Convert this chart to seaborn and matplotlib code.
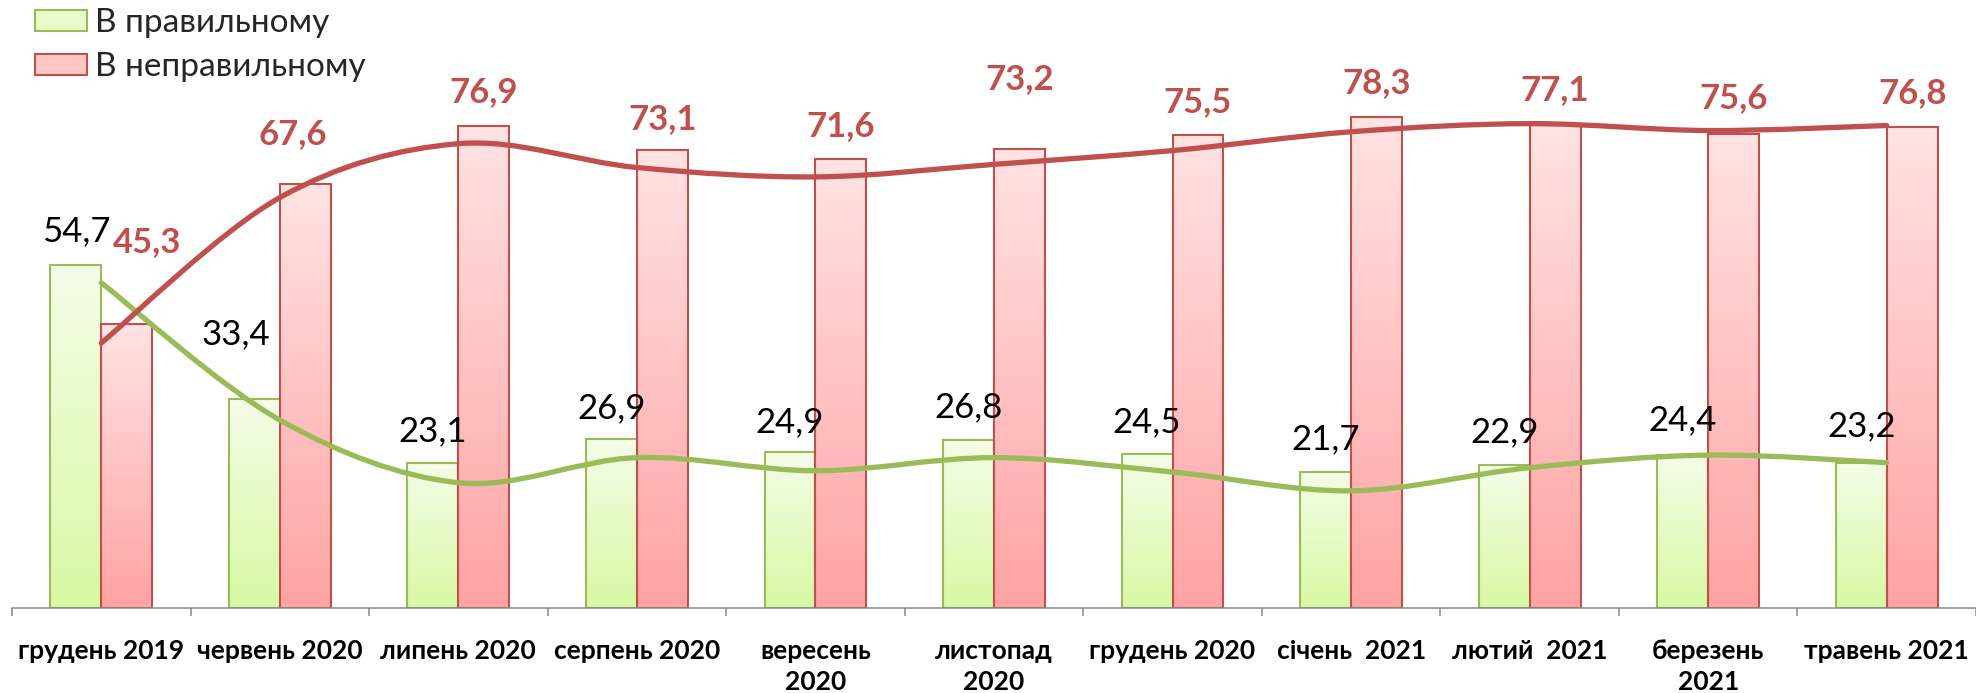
import numpy as np
import pandas as pd
import seaborn as sns
import matplotlib.pyplot as plt
from matplotlib.path import Path
from matplotlib.patches import PathPatch, Patch
from matplotlib.colors import LinearSegmentedColormap

months = ["грудень 2019", "червень 2020", "липень 2020", "серпень 2020",
          "вересень\n2020", "листопад\n2020", "грудень 2020", "січень  2021",
          "лютий  2021", "березень\n2021", "травень 2021"]
series = ["В правильному", "В неправильному"]
correct = [54.7, 33.4, 23.1, 26.9, 24.9, 26.8, 24.5, 21.7, 22.9, 24.4, 23.2]
wrong = [45.3, 67.6, 76.9, 73.1, 71.6, 73.2, 75.5, 78.3, 77.1, 75.6, 76.8]

# smoothed line series
correct_line = [51.9, 30.0, 20.0, 24.0, 21.9, 24.0, 21.7, 18.7, 22.4, 24.4, 23.2]
wrong_line = [42.3, 65.5, 74.1, 70.3, 68.8, 70.8, 73.0, 76.0, 77.3, 76.2, 77.0]

# data label nudges (pixels) relative to the top of each bar
correct_dx = [0, -19, 0, 0, 0, 0, 0, 0, 0, 0, 0]
correct_dy = [34, 64, 32, 31, 30, 33, 32, 33, 32, 35, 36]
wrong_dx = [20, -13, 0, 0, 0, 0, 0, 0, 0, 0, 0]
wrong_dy = [82, 50, 34, 31, 33, 70, 33, 34, 35, 36, 34]

GREEN = "#9BBB59"
RED = "#C0504D"
GREEN_TOP, GREEN_BOTTOM = "#F4FDE8", "#D7F9A3"
RED_TOP, RED_BOTTOM = "#FFE3E3", "#FFA3A3"

df = pd.DataFrame({
    "month": months * 2,
    "series": [series[0]] * len(months) + [series[1]] * len(months),
    "value": correct + wrong,
})

sns.set_theme(style="white")
plt.rcParams["font.family"] = ["Lato", "Open Sans", "DejaVu Sans"]

fig = plt.figure(figsize=(19.76, 6.93), dpi=100)
ax = fig.add_axes([12 / 1976, 85 / 693, 1 - 12 / 1976, 608 / 693])

sns.barplot(data=df, x="month", y="value", hue="series", palette=[GREEN, RED],
            width=0.57, saturation=1, legend=False, ax=ax)

grad = np.linspace(0, 1, 256).reshape(-1, 1)
styles = [(GREEN, GREEN_TOP, GREEN_BOTTOM), (RED, RED_TOP, RED_BOTTOM)]
for cont, (edge, top, bottom) in zip(ax.containers, styles):
    cmap = LinearSegmentedColormap.from_list("bar", [bottom, top])
    for bar in cont:
        x0, w, h = bar.get_x(), bar.get_width(), bar.get_height()
        ax.imshow(grad, extent=(x0, x0 + w, 0, h), origin="lower", cmap=cmap,
                  aspect="auto", zorder=1, interpolation="bicubic")
        bar.set_facecolor("none")
        bar.set_edgecolor(edge)
        bar.set_linewidth(1.5)
        bar.set_zorder(2)


def smooth_path(values):
    # Excel-like smoothed line: cubic Bezier through each point
    pts = np.column_stack([np.arange(len(values)), values]).astype(float)
    n = len(pts)
    verts, codes = [pts[0]], [Path.MOVETO]
    for i in range(n - 1):
        p0, p1 = pts[max(i - 1, 0)], pts[i]
        p2, p3 = pts[i + 1], pts[min(i + 2, n - 1)]
        verts += [p1 + (p2 - p0) / 6, p2 - (p3 - p1) / 6, p2]
        codes += [Path.CURVE4] * 3
    return Path(verts, codes)


for vals, col in [(correct_line, GREEN), (wrong_line, RED)]:
    ax.add_patch(PathPatch(smooth_path(vals), facecolor="none", edgecolor=col,
                           lw=3.8, capstyle="round", joinstyle="round", zorder=3))

# data labels
for bar, v, dx, dy in zip(ax.containers[0], correct, correct_dx, correct_dy):
    ax.annotate(f"{v:.1f}".replace(".", ","), (bar.get_x() + bar.get_width() / 2, v),
                xytext=(dx, dy), textcoords="offset pixels", ha="center", va="center",
                fontsize=25, color="black", zorder=4)
for bar, v, dx, dy in zip(ax.containers[1], wrong, wrong_dx, wrong_dy):
    ax.annotate(f"{v:.1f}".replace(".", ","), (bar.get_x() + bar.get_width() / 2, v),
                xytext=(dx, dy), textcoords="offset pixels", ha="center", va="center",
                fontsize=25, fontweight="bold", color=RED, zorder=4)

ax.set_xlim(-0.5, len(months) - 0.5)
ax.set_ylim(0, 608 / 6.266)
ax.set_xlabel("")
ax.set_ylabel("")
ax.set_yticks([])
ax.set_xticks(range(len(months)))
ax.set_xticklabels(months, fontsize=19, fontweight="bold", linespacing=1.38)
ax.set_xticks(np.arange(-0.5, len(months), 1), minor=True)
ax.tick_params(axis="x", which="major", length=0, pad=22, colors="black")
ax.tick_params(axis="x", which="minor", length=6, width=1.1, color="#898989", bottom=True)
for side in ["left", "top", "right"]:
    ax.spines[side].set_visible(False)
ax.spines["bottom"].set_color("#898989")
ax.spines["bottom"].set_linewidth(1.1)
ax.patch.set_alpha(0)

handles = [Patch(facecolor="#E8FBCB", edgecolor=GREEN, lw=1.5, label=series[0]),
           Patch(facecolor="#FFC6C6", edgecolor=RED, lw=1.5, label=series[1])]
fig.legend(handles=handles, loc="upper left", bbox_to_anchor=(35 / 1976, 1 - 8 / 693),
           frameon=False, fontsize=24, handlelength=1.55, handleheight=0.6,
           handletextpad=0.25, labelspacing=0.42, borderpad=0, borderaxespad=0)

fig.savefig("out.png", dpi=100)
